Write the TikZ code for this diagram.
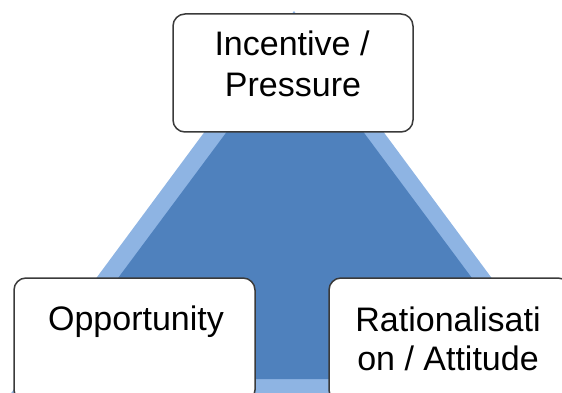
\documentclass[tikz,border=0pt]{standalone}
\usepackage{fontspec}
\setmainfont{Liberation Sans}
\definecolor{triDark}{HTML}{4F81BD}
\definecolor{triLight}{HTML}{8EB4E3}
\definecolor{boxLine}{HTML}{3A3A3A}
\tikzset{
  card/.style={draw=boxLine, line width=1.5pt, fill=white, rounded corners=12pt},
  cardtext/.style={anchor=base, inner sep=0pt, font=\fontsize{34}{40}\selectfont, text=black}
}
\begin{document}
\begin{tikzpicture}[x=1pt,y=-1pt]
\useasboundingbox (0,0) rectangle (562,393);
\clip (0,0) rectangle (562,393);
% triangle
\fill[triLight] (294,11) coordinate (oa) -- (9,396) coordinate (ob) -- (579,396) coordinate (oc) -- cycle;
\fill[triDark] (295,40) coordinate (ia) -- (43,379) coordinate (ib) -- (547,379) coordinate (ic) -- cycle;
% boxes
\draw[card] (173,14) rectangle (413,132);
\node[inner sep=0pt] (top) at (293,73) {};
\draw[card] (14,278) rectangle (255,402);
\node[inner sep=0pt] (left) at (134.5,340) {};
\draw[card] (329,278) rectangle (570,402);
\node[inner sep=0pt] (right) at (449.5,340) {};
% texts
\node[cardtext] (t1) at (292,56) {Incentive /};
\node[cardtext] (t2) at (293,97) {Pressure};
\node[cardtext] (t3) at (136,330) {Opportunity};
\node[cardtext] (t4) at (448,331) {Rationalisati};
\node[cardtext] (t5) at (448,370) {on / Attitude};
\end{tikzpicture}
\end{document}
